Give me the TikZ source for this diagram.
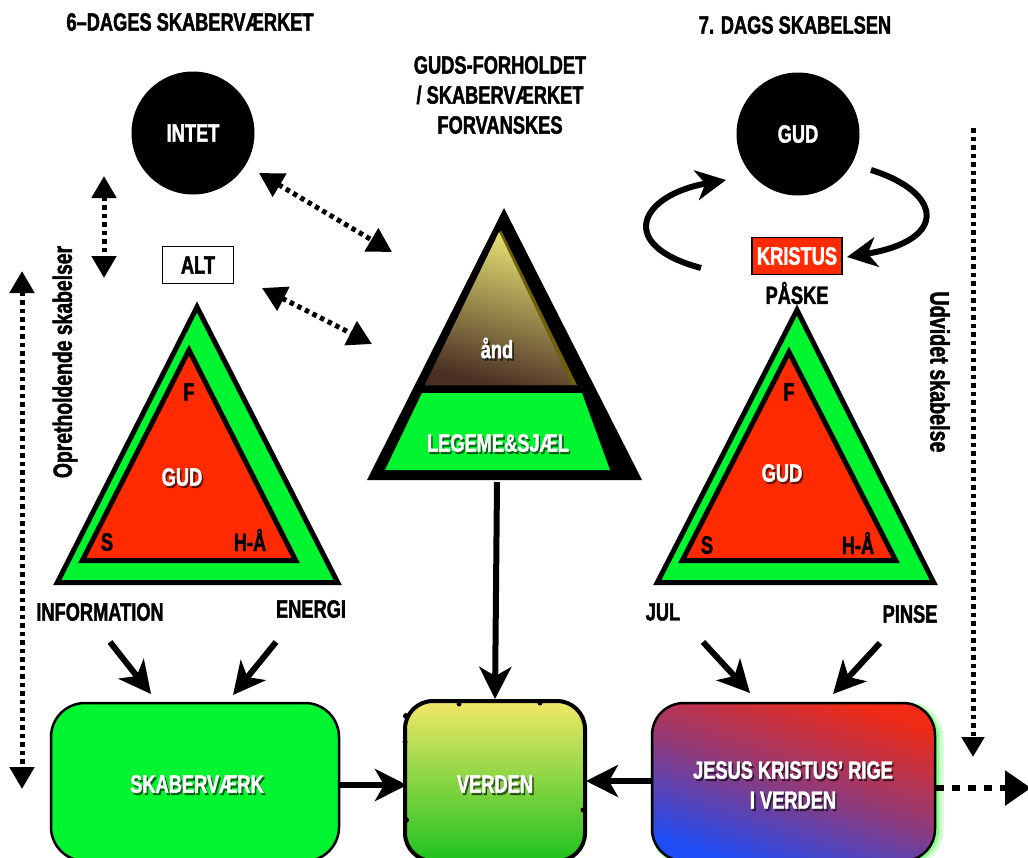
\documentclass[tikz,border=0pt]{standalone}
\usepackage{fontspec}
\setmainfont{Liberation Sans}[FakeStretch=0.73, BoldFeatures={FakeBold=1.6}]
\usetikzlibrary{arrows.meta,shapes.geometric,calc}
\definecolor{gr}{HTML}{00F531}
\definecolor{rd}{HTML}{FF2A00}
\definecolor{vy}{HTML}{F2E868}
\definecolor{vg}{HTML}{1EC21E}
\definecolor{jr}{HTML}{F02A14}
\definecolor{jp}{HTML}{923A78}
\definecolor{jb}{HTML}{1E4CF5}
\definecolor{ay}{HTML}{E8E274}
\definecolor{ab}{HTML}{4A3024}
\definecolor{ao}{HTML}{6E6008}
\newcommand\wtext[4][]{%
  \node[shd,#1] (#2-s) at ([shift={(1.6,2.2)}]#3) {#4};
  \node[wlbl,#1] (#2) at (#3) {#4};}
\begin{document}
\begin{tikzpicture}[x=1pt,y=-1pt,
  lbl/.style={font=\bfseries\fontsize{25}{30}\selectfont, inner sep=0pt, text=black},
  wlbl/.style={lbl, text=white},
  shd/.style={lbl, text=black, opacity=0.55},
  sarrow/.style={line width=6pt, -{Stealth[length=32pt,width=32pt,inset=9pt]}},
  carrow/.style={line width=6pt, -{Stealth[length=30pt,width=30pt,inset=9pt]}},
  dots/.style={line width=5pt, dash pattern=on 4.5pt off 4pt},
  darrow/.style={dots,
     {Triangle[length=24pt,width=26pt]}-{Triangle[length=24pt,width=26pt]}},
  tri/.style={line width=5pt, line join=miter, draw=black},
  circ/.style={circle, fill=black, minimum size=123pt, inner sep=0pt},
]
\useasboundingbox (0,0) rectangle (1028,857);
\fill[white] (0,0) rectangle (1028,857);

% titles
\node[lbl] (t1) at (190,22) {6–DAGES SKABERVÆRKET};
\node[lbl, align=center] (t2) at (500,95) {GUDS-FORHOLDET\\/ SKABERVÆRKET\\FORVANSKES};
\node[lbl] (t3) at (795,25) {7. DAGS SKABELSEN};

% ---------- left part ----------
\node[circ, wlbl] (intet) at (193,133) {INTET};
\node[lbl, draw, line width=1.5pt, minimum width=71pt, minimum height=37pt] (alt) at (198,265) {ALT};

\coordinate (d1a) at (104,176); \coordinate (d1b) at (104,278);
\draw[darrow, {Triangle[length=22pt,width=24pt]}-{Triangle[length=22pt,width=24pt]}] (d1a) -- (d1b);
\coordinate (d2a) at (259,173); \coordinate (d2b) at (392,252);
\draw[darrow] (d2a) -- (d2b);
\coordinate (d3a) at (262,288); \coordinate (d3b) at (372,344);
\draw[darrow] (d3a) -- (d3b);
\coordinate (d4a) at (22,271); \coordinate (d4b) at (22,789);
\draw[darrow, {Triangle[length=22pt,width=24pt]}-{Triangle[length=22pt,width=24pt]}] (d4a) -- (d4b);

\node[lbl, rotate=90, font=\bfseries\fontsize{26.5}{30}\selectfont] (opr) at (65,362) {Opretholdende skabelser};

% left triangle
\draw[tri, fill=gr] (197,307) -- (57.3,582.5) -- (337.7,582.5) -- cycle;
\draw[tri, fill=rd] (189,350) -- (82.3,560.5) -- (295.7,560.5) -- cycle;
\node[lbl] (lf) at (189,392) {F};
\wtext{lgud}{182,477}{GUD}
\node[lbl] (ls) at (107,542) {S};
\node[lbl] (lh) at (250,540) {H-Å};

\node[lbl] (info) at (100,612) {INFORMATION};
\node[lbl] (ener) at (311,609) {ENERGI};

\node[rectangle, rounded corners=34pt, draw, line width=2.5pt, fill=gr,
      minimum width=288pt, minimum height=158pt] (skab) at (195,782) {};
\wtext{skabT}{197,784}{SKABERVÆRK}

\coordinate (ia) at (110,642); \coordinate (ib) at (151,694);
\draw[sarrow] (ia) -- (ib);
\coordinate (ea) at (276,642); \coordinate (eb) at (233,695);
\draw[sarrow] (ea) -- (eb);

% ---------- centre ----------
\fill[black] (504,208) -- (367,480) -- (642,480) -- cycle;
\fill[ao] (501,230) -- (425,385) -- (577,385) -- cycle;
\shade[top color=ay, bottom color=ab, shading angle=-15] (499,232) -- (425,385) -- (572,385) -- cycle;
\fill[gr] (422,393) -- (582,393) -- (610,470) -- (385,470) -- cycle;
\wtext{and}{497,348}{ånd}
\wtext{leg}{498,443}{LEGEME\&SJÆL}
\coordinate (ctri) at (497,482);

\node[rectangle, rounded corners=28pt, minimum width=180pt, minimum height=160pt,
      top color=vy, bottom color=vg, draw=black, line width=4pt] (verden) at (495,781) {};
\fill[black] (406,716) circle (3); \fill[black] (405,742) circle (2.5);
\fill[black] (406,820) circle (3); \fill[black] (583,810) circle (2.5);
\fill[black] (459,704) circle (2.5); \fill[black] (540,703) circle (2.5);
\wtext{verT}{495,784}{VERDEN}

\draw[sarrow] (ctri) -- (verden.north);

% ---------- right part ----------
\node[circ, wlbl] (gud) at (798,134) {GUD};
\node[wlbl, draw=black, line width=1.5pt, fill=rd, minimum width=90pt, minimum height=37pt] (kri) at (797,256) {KRISTUS};
\node[lbl] (paske) at (797,293) {PÅSKE};

\coordinate (la1) at (701,268); \coordinate (la2) at (726,180);
\draw[carrow] (la1) .. controls (615,245) and (640,195) .. (la2);
\coordinate (ra1) at (871,170); \coordinate (ra2) at (847,257);
\draw[carrow] (ra1) .. controls (942,192) and (950,240) .. (ra2);

\draw[tri, fill=gr] (797,310) -- (657.3,582.5) -- (933.7,582.5) -- cycle;
\draw[tri, fill=rd] (789,352) -- (682.3,560.5) -- (895.7,560.5) -- cycle;
\node[lbl] (rf) at (789,392) {F};
\wtext{rgud}{782,473}{GUD}
\node[lbl] (rs) at (707,545) {S};
\node[lbl] (rh) at (858,543) {H-Å};

\node[lbl] (jul) at (663,612) {JUL};
\node[lbl] (pinse) at (910,614) {PINSE};

\node[lbl, rotate=-90, font=\bfseries\fontsize{27}{30}\selectfont] (udv) at (940,372) {Udvidet skabelse};
\coordinate (d5a) at (973,128); \coordinate (d5b) at (973,757);
\draw[dots, -{Triangle[length=20pt,width=22pt]}] (d5a) -- (d5b);

% glow
\draw[green, line width=9pt, opacity=0.18, rounded corners=32pt] (655,706) rectangle (939,862);
\draw[green, line width=4pt, opacity=0.35, rounded corners=32pt] (654,705) rectangle (937,862);
\node[rectangle, rounded corners=32pt, draw, line width=2.5pt,
      top color=jr, bottom color=jb, middle color=jp, shading angle=-18,
      minimum width=283pt, minimum height=158pt] (jesus) at (793.5,782) {};
\wtext[align=center]{jesT}{793,785}{JESUS KRISTUS’ RIGE\\I VERDEN}

\coordinate (ja) at (703,642); \coordinate (jb) at (750,693);
\draw[sarrow] (ja) -- (jb);
\coordinate (pa) at (880,643); \coordinate (pb) at (833,694);
\draw[sarrow] (pa) -- (pb);

% bottom connectors
\coordinate (s1) at (339,785); \coordinate (s2) at (407,785);
\draw[sarrow] (skab.east |- s1) -- (s2);
\coordinate (j1) at (652,781); \coordinate (j2) at (586,781);
\draw[sarrow] (jesus.west |- j1) -- (j2);
\coordinate (rgo) at (1031,788);
\draw[line width=6pt, dash pattern=on 8pt off 8pt, -{Triangle[length=26pt,width=34pt]}] (jesus.east |- rgo) -- (rgo);
\end{tikzpicture}
\end{document}
